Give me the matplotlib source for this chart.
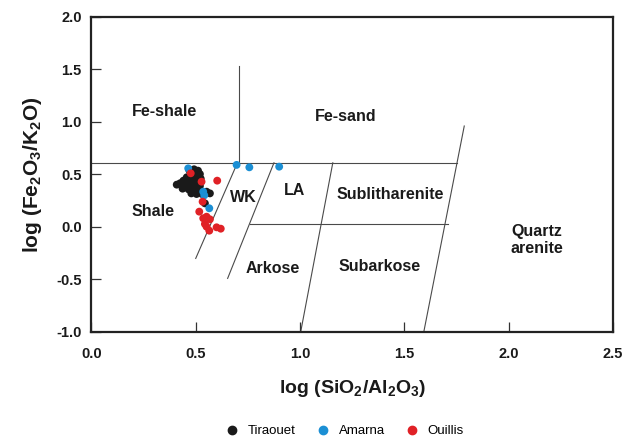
import matplotlib
matplotlib.use("Agg")
import matplotlib.pyplot as plt
from matplotlib.lines import Line2D

plt.rcParams["font.family"] = ["Liberation Sans", "DejaVu Sans"]
plt.rcParams["mathtext.fontset"] = "custom"
plt.rcParams["mathtext.rm"] = "Liberation Sans:bold"
plt.rcParams["mathtext.bf"] = "Liberation Sans:bold"
plt.rcParams["mathtext.it"] = "Liberation Sans:bold:italic"

# Sample compositions: log(SiO2/Al2O3) and log(Fe2O3/K2O)
tiraouet_x = [0.469, 0.492, 0.511, 0.520, 0.476, 0.498, 0.457, 0.482, 0.504, 0.524,
              0.441, 0.463, 0.488, 0.511, 0.425, 0.409, 0.447, 0.473, 0.498, 0.520,
              0.437, 0.466, 0.492, 0.517, 0.552, 0.568, 0.479, 0.504, 0.530, 0.544]
tiraouet_y = [0.541, 0.548, 0.535, 0.503, 0.503, 0.497, 0.472, 0.459, 0.465, 0.459,
              0.440, 0.427, 0.427, 0.421, 0.415, 0.402, 0.396, 0.389, 0.389, 0.389,
              0.364, 0.357, 0.351, 0.351, 0.335, 0.319, 0.319, 0.313, 0.313, 0.224]

amarna_x = [0.464, 0.696, 0.757, 0.900, 0.536, 0.541, 0.565]
amarna_y = [0.557, 0.590, 0.567, 0.573, 0.335, 0.300, 0.177]

ouillis_x = [0.476, 0.603, 0.528, 0.533, 0.517, 0.552, 0.568, 0.536, 0.544, 0.552,
             0.565, 0.600, 0.620]
ouillis_y = [0.510, 0.440, 0.430, 0.240, 0.145, 0.097, 0.072, 0.082, 0.028, 0.002,
             -0.036, -0.004, -0.017]

# Classification field boundaries (Herron, 1988)
boundaries = [
    ([0.709, 0.709], [1.53, 0.61]),      # Fe-shale / Fe-sand
    ([0.0, 1.75], [0.61, 0.61]),         # upper horizontal
    ([0.76, 1.71], [0.028, 0.028]),      # lower horizontal
    ([0.70, 0.50], [0.61, -0.30]),       # Shale / WK
    ([0.875, 0.653], [0.61, -0.49]),     # WK / LA, Arkose
    ([1.157, 1.003], [0.61, -1.0]),      # Arkose / Subarkose
    ([1.787, 1.593], [0.96, -1.0]),      # Quartz arenite
]

field_labels = [
    ("Fe-shale", 0.35, 1.10),
    ("Fe-sand", 1.22, 1.055),
    ("Shale", 0.295, 0.15),
    ("WK", 0.73, 0.28),
    ("LA", 0.975, 0.35),
    ("Sublitharenite", 1.43, 0.31),
    ("Quartz\narenite", 2.135, -0.125),
    ("Arkose", 0.87, -0.40),
    ("Subarkose", 1.38, -0.38),
]

c_tir = "#1a1a1a"
c_ama = "#1b8fd4"
c_oui = "#e02126"

fig = plt.figure(figsize=(6.29, 4.40), dpi=100)
ax = fig.add_axes([0.1453, 0.2455, 0.8293, 0.7165])

for xs, ys in boundaries:
    ax.plot(xs, ys, color="#4a4a4a", lw=0.8, zorder=1)

for text, x, y in field_labels:
    ax.text(x, y, text, ha="center", va="center", fontsize=11.5,
            fontweight="bold", color="#1a1a1a", linespacing=1.2)

ms = 32
ax.scatter(tiraouet_x, tiraouet_y, s=ms, color=c_tir, edgecolors="none", zorder=3)
ax.scatter(amarna_x, amarna_y, s=ms, color=c_ama, edgecolors="none", zorder=4)
ax.scatter(ouillis_x, ouillis_y, s=ms, color=c_oui, edgecolors="none", zorder=4)

ax.set_xlim(0, 2.5)
ax.set_ylim(-1.0, 2.0)
ax.set_xticks([0.0, 0.5, 1.0, 1.5, 2.0, 2.5])
ax.set_yticks([-1.0, -0.5, 0.0, 0.5, 1.0, 1.5, 2.0])
ax.set_xticklabels(["0.0", "0.5", "1.0", "1.5", "2.0", "2.5"])
ax.set_yticklabels(["-1.0", "-0.5", "0.0", "0.5", "1.0", "1.5", "2.0"])
ax.tick_params(axis="both", direction="in", length=7, width=0.9, color="#333333",
               labelsize=10.5)
ax.tick_params(axis="x", pad=11)
ax.tick_params(axis="y", pad=7)
for lab in ax.get_xticklabels() + ax.get_yticklabels():
    lab.set_fontweight("bold")
    lab.set_color("#1a1a1a")

for sp in ax.spines.values():
    sp.set_linewidth(1.6)
    sp.set_color("#222222")

ax.set_xlabel(r"log (SiO$_\mathrm{2}$/Al$_\mathrm{2}$O$_\mathrm{3}$)", fontsize=14,
              fontweight="bold", labelpad=12, color="#1a1a1a")
ax.set_ylabel(r"log (Fe$_\mathrm{2}$O$_\mathrm{3}$/K$_\mathrm{2}$O)", fontsize=15,
              fontweight="bold", labelpad=9, color="#1a1a1a")

handles = [
    Line2D([], [], marker="o", ls="none", color=c_tir, markersize=6, label="Tiraouet"),
    Line2D([], [], marker="o", ls="none", color=c_ama, markersize=6, label="Amarna"),
    Line2D([], [], marker="o", ls="none", color=c_oui, markersize=6, label="Ouillis"),
]
fig.legend(handles=handles, loc="center", bbox_to_anchor=(0.548, 0.02), ncol=3,
           frameon=False, fontsize=9.5, handletextpad=0.7, columnspacing=1.55,
           handlelength=1.0)

fig.savefig("out.png", dpi=100)
